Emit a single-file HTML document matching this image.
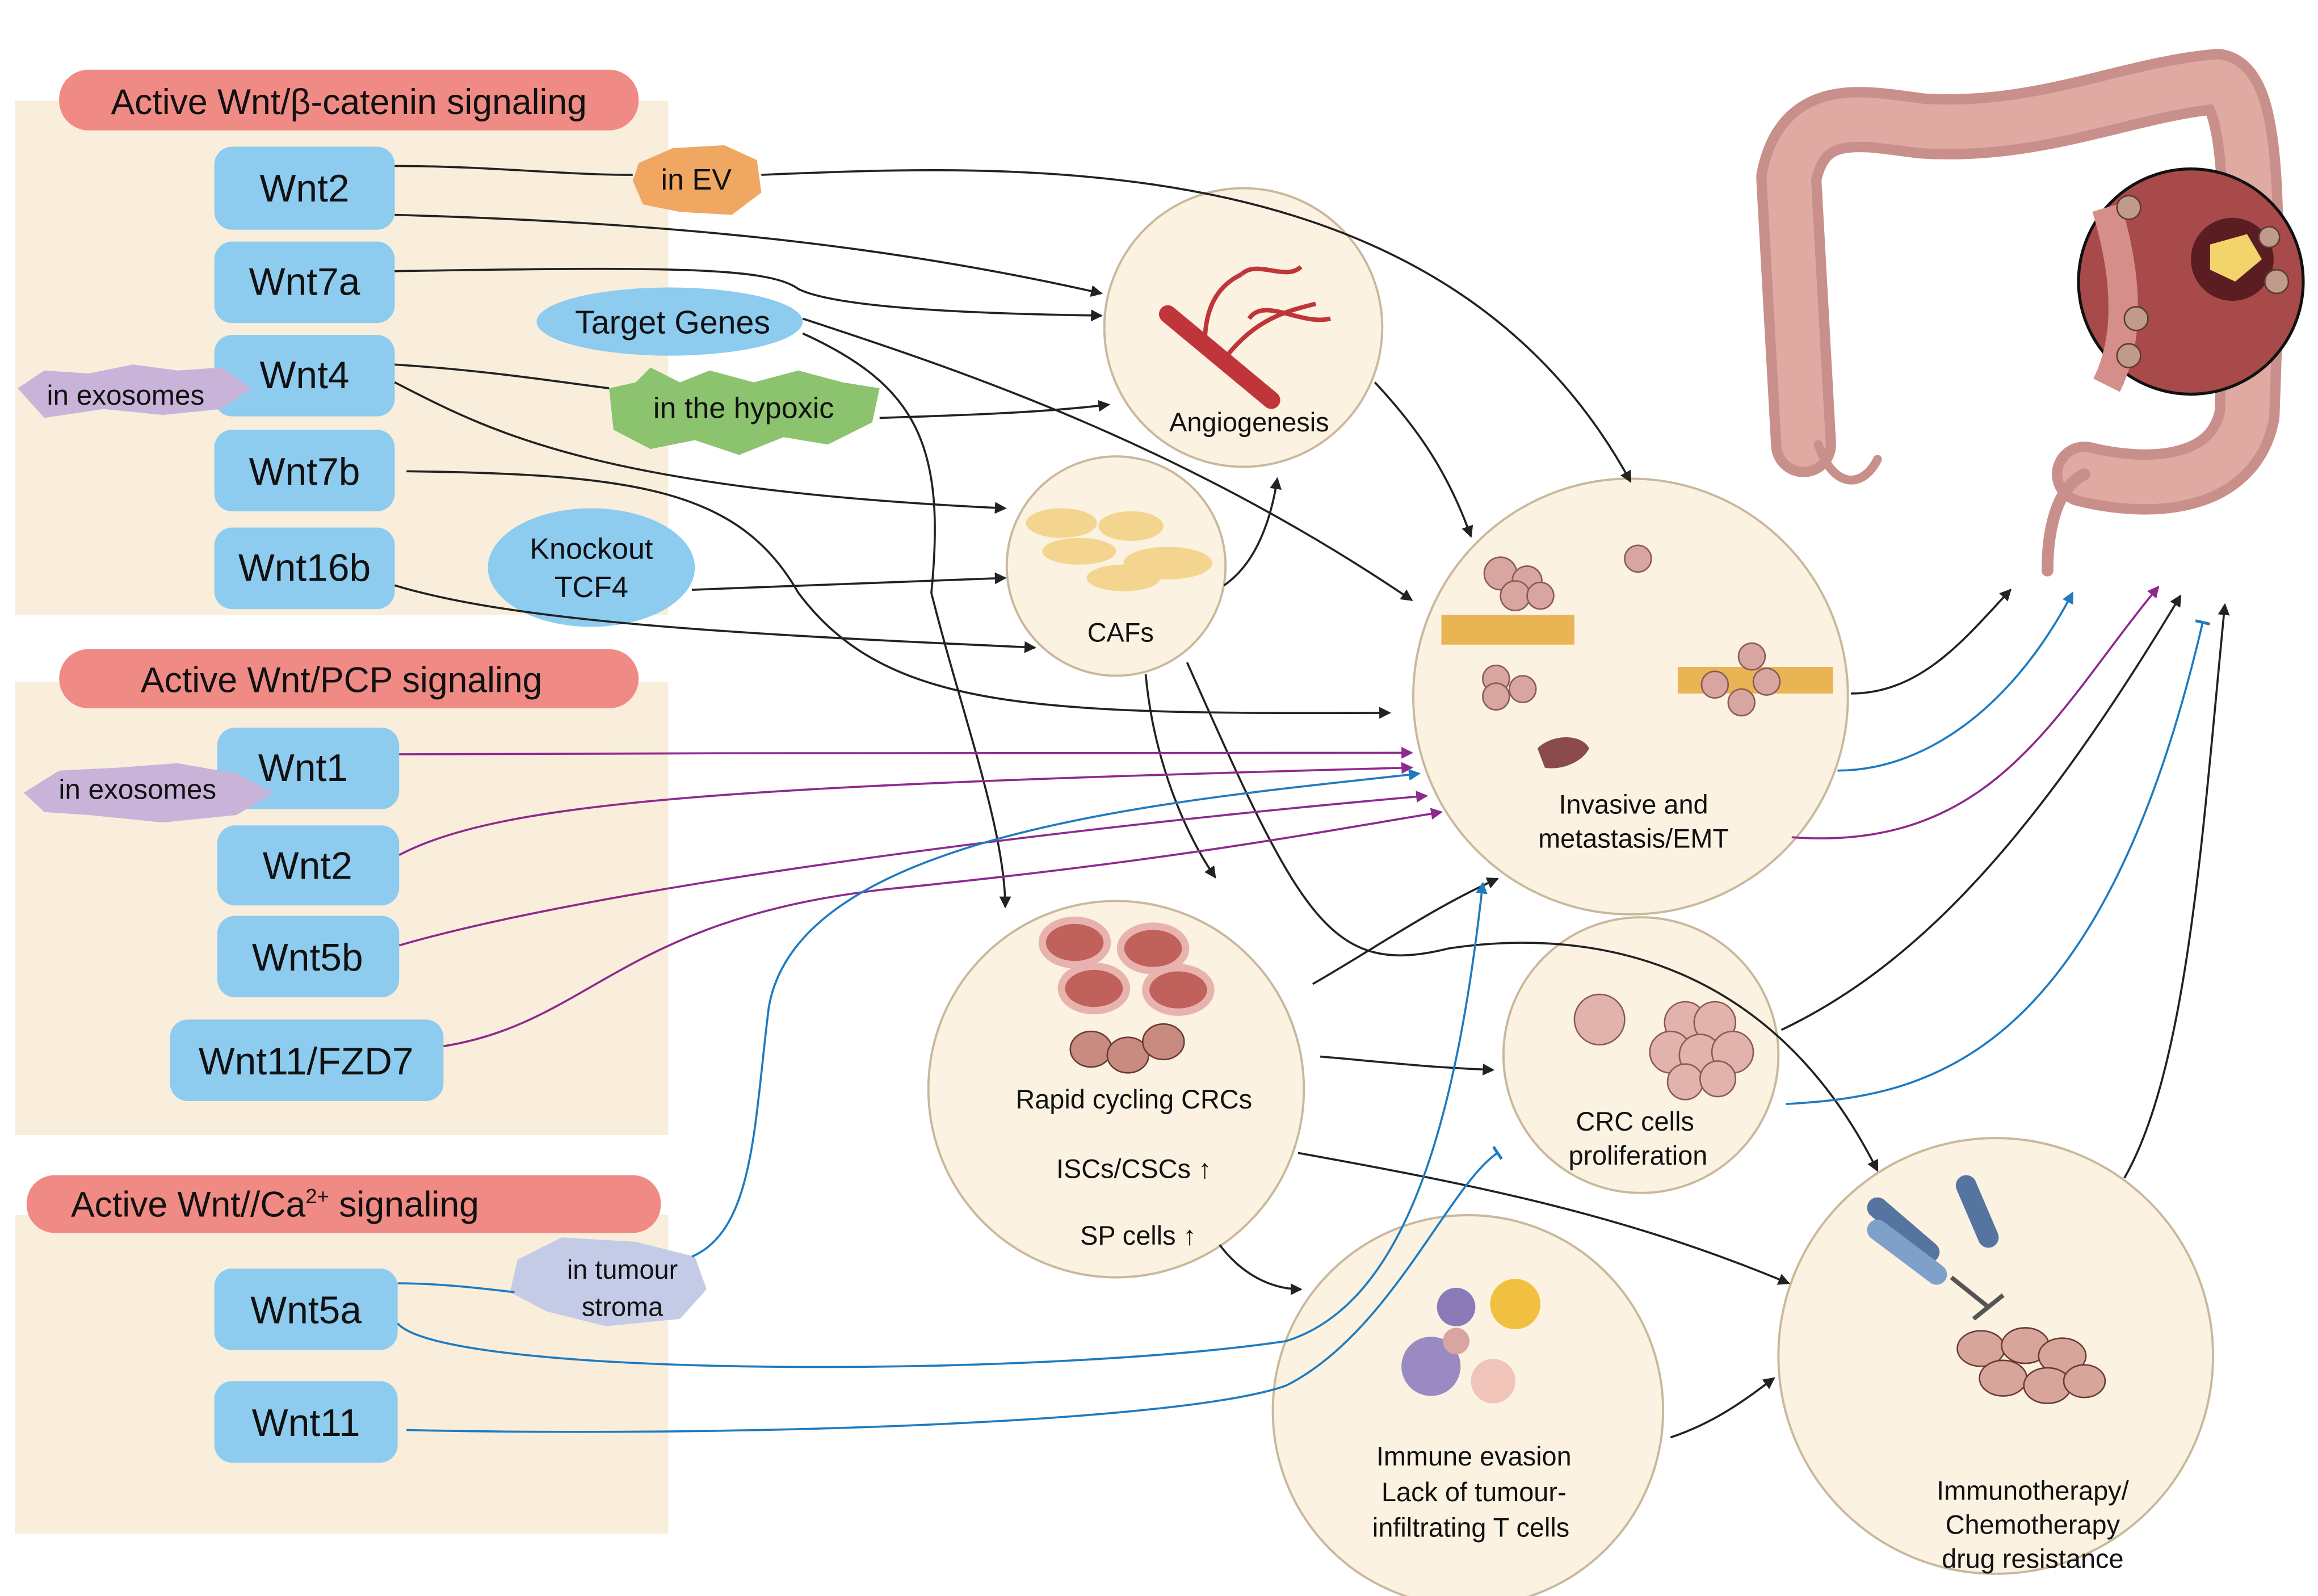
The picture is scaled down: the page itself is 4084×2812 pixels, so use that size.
<!DOCTYPE html>
<html><head><meta charset="utf-8"><style>
html,body{margin:0;padding:0;background:#fff}
svg{display:block}
text{font-family:"Liberation Sans",Arial,sans-serif}
</style></head><body>
<svg width="4084" height="2812" viewBox="0 0 1568 1077" preserveAspectRatio="none" xmlns="http://www.w3.org/2000/svg">
<defs>
<marker id="ak" markerWidth="8" markerHeight="8" refX="7" refY="4" orient="auto" markerUnits="userSpaceOnUse"><path d="M0,0 L8,4 L0,8 z" fill="#222"/></marker>
<marker id="ab" markerWidth="8" markerHeight="8" refX="7" refY="4" orient="auto" markerUnits="userSpaceOnUse"><path d="M0,0 L8,4 L0,8 z" fill="#1f7bc0"/></marker>
<marker id="ap" markerWidth="8" markerHeight="8" refX="7" refY="4" orient="auto" markerUnits="userSpaceOnUse"><path d="M0,0 L8,4 L0,8 z" fill="#8e2a8e"/></marker>
<marker id="tb" markerWidth="2" markerHeight="10" refX="1" refY="5" orient="auto" markerUnits="userSpaceOnUse"><rect x="0" y="0" width="2" height="10" fill="#1f7bc0"/></marker>
</defs>
<rect width="1568" height="1077" fill="#fff"/>
<!-- panels -->
<rect x="10" y="68" width="442" height="347" fill="#f8eedb"/>
<rect x="10" y="460" width="442" height="306" fill="#f8eedb"/>
<rect x="10" y="820" width="442" height="215" fill="#f8eedb"/>
<rect x="40" y="47" width="392" height="41" rx="20" fill="#f08a84"/>
<text x="236" y="77" font-size="24" text-anchor="middle" fill="#111">Active Wnt/β-catenin signaling</text>
<rect x="40" y="438" width="392" height="40" rx="20" fill="#f08a84"/>
<text x="231" y="467" font-size="24" text-anchor="middle" fill="#111">Active Wnt/PCP signaling</text>
<rect x="18" y="793" width="429" height="39" rx="19" fill="#f08a84"/>
<text x="186" y="821" font-size="24" text-anchor="middle" fill="#111">Active Wnt//Ca<tspan font-size="14" dy="-9">2+</tspan><tspan dy="9"> signaling</tspan></text>
<g fill="#8dcbef">
<rect x="145" y="99" width="122" height="56" rx="12"/>
<rect x="145" y="163" width="122" height="55" rx="12"/>
<rect x="145" y="226" width="122" height="55" rx="12"/>
<rect x="145" y="290" width="122" height="55" rx="12"/>
<rect x="145" y="356" width="122" height="55" rx="12"/>
<rect x="147" y="491" width="123" height="55" rx="12"/>
<rect x="147" y="557" width="123" height="54" rx="12"/>
<rect x="147" y="618" width="123" height="55" rx="12"/>
<rect x="115" y="688" width="185" height="55" rx="12"/>
<rect x="145" y="856" width="124" height="55" rx="12"/>
<rect x="145" y="932" width="124" height="55" rx="12"/>
</g>
<g font-size="26" fill="#111" text-anchor="middle">
<text x="206" y="136">Wnt2</text><text x="206" y="199">Wnt7a</text><text x="206" y="262">Wnt4</text>
<text x="206" y="327">Wnt7b</text><text x="206" y="392">Wnt16b</text>
<text x="205" y="527">Wnt1</text><text x="208" y="593">Wnt2</text><text x="208" y="655">Wnt5b</text>
<text x="207" y="725">Wnt11/FZD7</text><text x="207" y="893">Wnt5a</text><text x="207" y="969">Wnt11</text>
</g>
<!-- blobs -->
<path d="M12,262 L30,250 L60,252 L90,246 L120,250 L150,248 L170,262 L150,276 L110,280 L70,276 L30,282 Z" fill="#c9b3d9"/>
<text x="85" y="273" font-size="19" text-anchor="middle" fill="#111">in exosomes</text>
<path d="M16,535 L40,520 L80,518 L120,515 L160,522 L185,535 L160,550 L110,555 L60,550 L30,548 Z" fill="#c9b3d9"/>
<text x="93" y="539" font-size="19" text-anchor="middle" fill="#111">in exosomes</text>
<path d="M350,850 L380,835 L430,838 L470,848 L478,870 L460,890 L410,895 L370,885 L345,872 Z" fill="#c4cbe6"/>
<text x="421" y="863" font-size="18" text-anchor="middle" fill="#111">in tumour</text>
<text x="421" y="888" font-size="18" text-anchor="middle" fill="#111">stroma</text>
<path d="M432,110 L455,100 L490,98 L512,108 L515,130 L495,145 L460,143 L435,138 L428,122 Z" fill="#f0a762"/>
<text x="471" y="128" font-size="20" text-anchor="middle" fill="#111">in EV</text>
<path d="M412,262 L430,258 L440,248 L460,258 L480,250 L510,258 L540,250 L570,258 L595,262 L590,285 L560,300 L530,295 L500,307 L470,297 L440,303 L415,290 Z" fill="#8cc36e"/>
<text x="503" y="282" font-size="20" text-anchor="middle" fill="#111">in the hypoxic</text>
<ellipse cx="453" cy="217" rx="90" ry="23" fill="#8dcbef"/>
<text x="455" y="225" font-size="22" text-anchor="middle" fill="#111">Target Genes</text>
<ellipse cx="400" cy="383" rx="70" ry="40" fill="#8dcbef"/>
<text x="400" y="377" font-size="20" text-anchor="middle" fill="#111">Knockout</text>
<text x="400" y="403" font-size="20" text-anchor="middle" fill="#111">TCF4</text>
<!-- circles -->
<g fill="#fbf2e1" stroke="#c9b89c" stroke-width="1.5">
<circle cx="841" cy="221" r="94"/>
<circle cx="755" cy="382" r="74"/>
<circle cx="1103" cy="470" r="147"/>
<circle cx="755" cy="735" r="127"/>
<circle cx="1110" cy="712" r="93"/>
<circle cx="993" cy="952" r="132"/>
<circle cx="1350" cy="915" r="147"/>
</g>
<!-- connectors -->
<g fill="none" stroke-width="1.4">
<g stroke="#222" marker-end="url(#ak)">
<path d="M515,118 C700,110 980,100 1103,325"/>
<path d="M267,145 C450,150 600,165 745,198"/>
<path d="M267,183 C450,180 520,180 540,195 C570,210 690,212 745,213"/>
<path d="M595,282 C660,280 710,278 750,273"/>
<path d="M267,258 C330,290 400,330 680,343"/>
<path d="M543,215 C650,250 800,300 955,405"/>
<path d="M543,225 C620,260 640,300 630,400 C650,480 680,560 680,612"/>
<path d="M275,318 C430,320 500,330 540,400 C600,480 700,482 940,481"/>
<path d="M468,398 C560,395 620,392 680,390"/>
<path d="M267,395 C350,420 500,428 700,437"/>
<path d="M828,395 C850,380 860,350 864,323"/>
<path d="M930,258 C960,290 980,320 995,362"/>
<path d="M775,455 C780,510 800,560 822,592"/>
<path d="M803,447 C880,620 900,660 980,640 C1080,625 1200,650 1270,790"/>
<path d="M888,664 C930,640 970,612 1013,593"/>
<path d="M893,713 C930,716 960,720 1010,722"/>
<path d="M878,778 C1000,800 1100,820 1210,866"/>
<path d="M825,840 C840,860 860,870 880,870"/>
<path d="M1130,970 C1160,960 1180,945 1200,930"/>
<path d="M1252,468 C1300,468 1330,430 1360,398"/>
<path d="M1205,695 C1300,650 1380,560 1475,402"/>
<path d="M1437,795 C1480,720 1490,560 1505,408"/>
</g>
<path d="M267,112 C330,112 380,118 428,118" stroke="#222"/>
<path d="M267,246 C330,250 380,258 412,262" stroke="#222"/>
<g stroke="#8e2a8e" marker-end="url(#ap)">
<path d="M270,509 C500,508 750,508 955,508"/>
<path d="M270,577 C340,540 500,530 955,518"/>
<path d="M270,638 C400,600 700,560 965,537"/>
<path d="M300,706 C400,690 420,620 600,600 C800,580 900,560 975,548"/>
<path d="M1212,565 C1350,575 1390,480 1460,396"/>
</g>
<g stroke="#1f7bc0" marker-end="url(#ab)">
<path d="M468,848 C510,830 510,760 520,680 C540,560 800,540 960,522"/>
<path d="M269,893 C300,930 700,930 870,905 C950,880 985,760 1003,596"/>
<path d="M1243,520 C1300,520 1360,480 1402,400"/>
</g>
<path d="M275,965 C500,970 800,960 870,935 C940,900 980,800 1013,778" stroke="#1f7bc0" marker-end="url(#tb)"/>
<path d="M1208,745 C1300,740 1420,720 1490,420" stroke="#1f7bc0" marker-end="url(#tb)"/>
<path d="M269,866 C300,866 330,870 348,872" stroke="#1f7bc0"/>
</g>
<!-- circle contents -->
<line x1="790" y1="212" x2="860" y2="270" stroke="#c0353a" stroke-width="12" stroke-linecap="round"/>
<path d="M815,232 C815,200 830,190 840,185 M830,240 C850,215 870,210 890,205 M840,185 C850,175 870,190 880,180 M845,215 C855,200 880,220 900,215" stroke="#c0353a" stroke-width="3" fill="none"/>
<text x="845" y="291" font-size="18" text-anchor="middle" fill="#111">Angiogenesis</text>
<g fill="#f4d590"><ellipse cx="718" cy="353" rx="24" ry="10"/><ellipse cx="765" cy="355" rx="22" ry="10"/><ellipse cx="730" cy="372" rx="25" ry="9"/><ellipse cx="790" cy="380" rx="30" ry="11"/><ellipse cx="760" cy="390" rx="25" ry="9"/></g>
<text x="758" y="433" font-size="18" text-anchor="middle" fill="#111">CAFs</text>
<rect x="975" y="415" width="90" height="20" fill="#e9b454"/>
<rect x="1135" y="450" width="105" height="18" fill="#e9b454"/>
<g fill="#d9a5a0" stroke="#8a5a55"><circle cx="1015" cy="387" r="11"/><circle cx="1033" cy="392" r="10"/><circle cx="1025" cy="402" r="10"/><circle cx="1042" cy="402" r="9"/><circle cx="1108" cy="377" r="9"/><circle cx="1012" cy="458" r="9"/><circle cx="1030" cy="465" r="9"/><circle cx="1012" cy="470" r="9"/><circle cx="1185" cy="443" r="9"/><circle cx="1195" cy="460" r="9"/><circle cx="1178" cy="474" r="9"/><circle cx="1160" cy="462" r="9"/></g>
<path d="M1040,505 C1050,495 1070,495 1075,505 C1070,515 1055,520 1045,518 Z" fill="#8b4b4b"/>
<text x="1105" y="549" font-size="18" text-anchor="middle" fill="#111">Invasive and</text>
<text x="1105" y="572" font-size="18" text-anchor="middle" fill="#111">metastasis/EMT</text>
<g fill="#c0615c" stroke="#e8b3ae" stroke-width="5"><ellipse cx="727" cy="636" rx="22" ry="15"/><ellipse cx="780" cy="640" rx="22" ry="15"/><ellipse cx="740" cy="667" rx="22" ry="15"/><ellipse cx="797" cy="668" rx="22" ry="15"/></g>
<g fill="#c98a80" stroke="#6a3a35"><ellipse cx="738" cy="708" rx="14" ry="12"/><ellipse cx="763" cy="712" rx="14" ry="12"/><ellipse cx="787" cy="703" rx="14" ry="12"/></g>
<text x="767" y="748" font-size="18" text-anchor="middle" fill="#111">Rapid cycling CRCs</text>
<text x="767" y="795" font-size="18" text-anchor="middle" fill="#111">ISCs/CSCs ↑</text>
<text x="770" y="840" font-size="18" text-anchor="middle" fill="#111">SP cells ↑</text>
<g fill="#e2b3ac" stroke="#8a5a55"><circle cx="1082" cy="688" r="17"/><circle cx="1140" cy="690" r="14"/><circle cx="1160" cy="690" r="14"/><circle cx="1130" cy="710" r="14"/><circle cx="1150" cy="712" r="14"/><circle cx="1172" cy="710" r="14"/><circle cx="1140" cy="730" r="12"/><circle cx="1162" cy="728" r="12"/></g>
<text x="1106" y="763" font-size="18" text-anchor="middle" fill="#111">CRC cells</text>
<text x="1108" y="786" font-size="18" text-anchor="middle" fill="#111">proliferation</text>
<circle cx="985" cy="882" r="13" fill="#8a7ab8"/><circle cx="1025" cy="880" r="17" fill="#f2c040"/>
<circle cx="968" cy="922" r="20" fill="#9a8ac2"/><circle cx="1010" cy="932" r="15" fill="#f0c4b8"/><circle cx="985" cy="905" r="9" fill="#d9a5a0"/>
<text x="997" y="989" font-size="18" text-anchor="middle" fill="#111">Immune evasion</text>
<text x="997" y="1013" font-size="18" text-anchor="middle" fill="#111">Lack of tumour-</text>
<text x="995" y="1037" font-size="18" text-anchor="middle" fill="#111">infiltrating T cells</text>
<g stroke-width="14" stroke-linecap="round"><line x1="1270" y1="815" x2="1305" y2="845" stroke="#5575a0"/><line x1="1330" y1="800" x2="1345" y2="835" stroke="#5575a0"/><line x1="1270" y1="830" x2="1310" y2="860" stroke="#7fa0c8"/></g>
<line x1="1320" y1="862" x2="1345" y2="882" stroke="#555" stroke-width="3"/>
<line x1="1335" y1="890" x2="1355" y2="874" stroke="#555" stroke-width="3"/>
<g fill="#d8a59b" stroke="#6a3a35"><ellipse cx="1340" cy="910" rx="16" ry="12"/><ellipse cx="1370" cy="908" rx="16" ry="12"/><ellipse cx="1395" cy="915" rx="16" ry="12"/><ellipse cx="1355" cy="930" rx="16" ry="12"/><ellipse cx="1385" cy="935" rx="16" ry="12"/><ellipse cx="1410" cy="932" rx="14" ry="11"/></g>
<text x="1375" y="1012" font-size="18" text-anchor="middle" fill="#111">Immunotherapy/</text>
<text x="1375" y="1035" font-size="18" text-anchor="middle" fill="#111">Chemotherapy</text>
<text x="1375" y="1058" font-size="18" text-anchor="middle" fill="#111">drug resistance</text>
<!-- colon -->
<g fill="none" stroke-linecap="round" stroke-linejoin="round">
<path d="M1220,300 L1210,120 C1220,70 1260,80 1300,85 C1380,90 1440,60 1500,55 C1525,60 1525,150 1520,280 C1510,330 1450,330 1410,320" stroke="#c98f8a" stroke-width="44"/>
<path d="M1220,300 L1210,120 C1220,70 1260,80 1300,85 C1380,90 1440,60 1500,55 C1525,60 1525,150 1520,280 C1510,330 1450,330 1410,320" stroke="#dfaaa2" stroke-width="30"/>
<path d="M1230,300 C1240,330 1260,330 1270,310" stroke="#c98f8a" stroke-width="6"/>
<path d="M1410,320 C1390,330 1385,360 1385,385" stroke="#c98f8a" stroke-width="8"/>
</g>
<circle cx="1482" cy="190" r="76" fill="#a84a4a" stroke="#111" stroke-width="2"/>
<path d="M1425,140 C1440,190 1440,230 1425,260" stroke="#d58e8a" stroke-width="20" fill="none"/>
<circle cx="1510" cy="175" r="28" fill="#5a1e22"/>
<path d="M1495,165 L1520,158 L1530,175 L1512,190 L1495,182 Z" fill="#f3d46a"/>
<g fill="#c09a8a" stroke="#5a3a30"><circle cx="1440" cy="140" r="8"/><circle cx="1445" cy="215" r="8"/><circle cx="1440" cy="240" r="8"/><circle cx="1540" cy="190" r="8"/><circle cx="1535" cy="160" r="7"/></g>
</svg>
</body></html>
